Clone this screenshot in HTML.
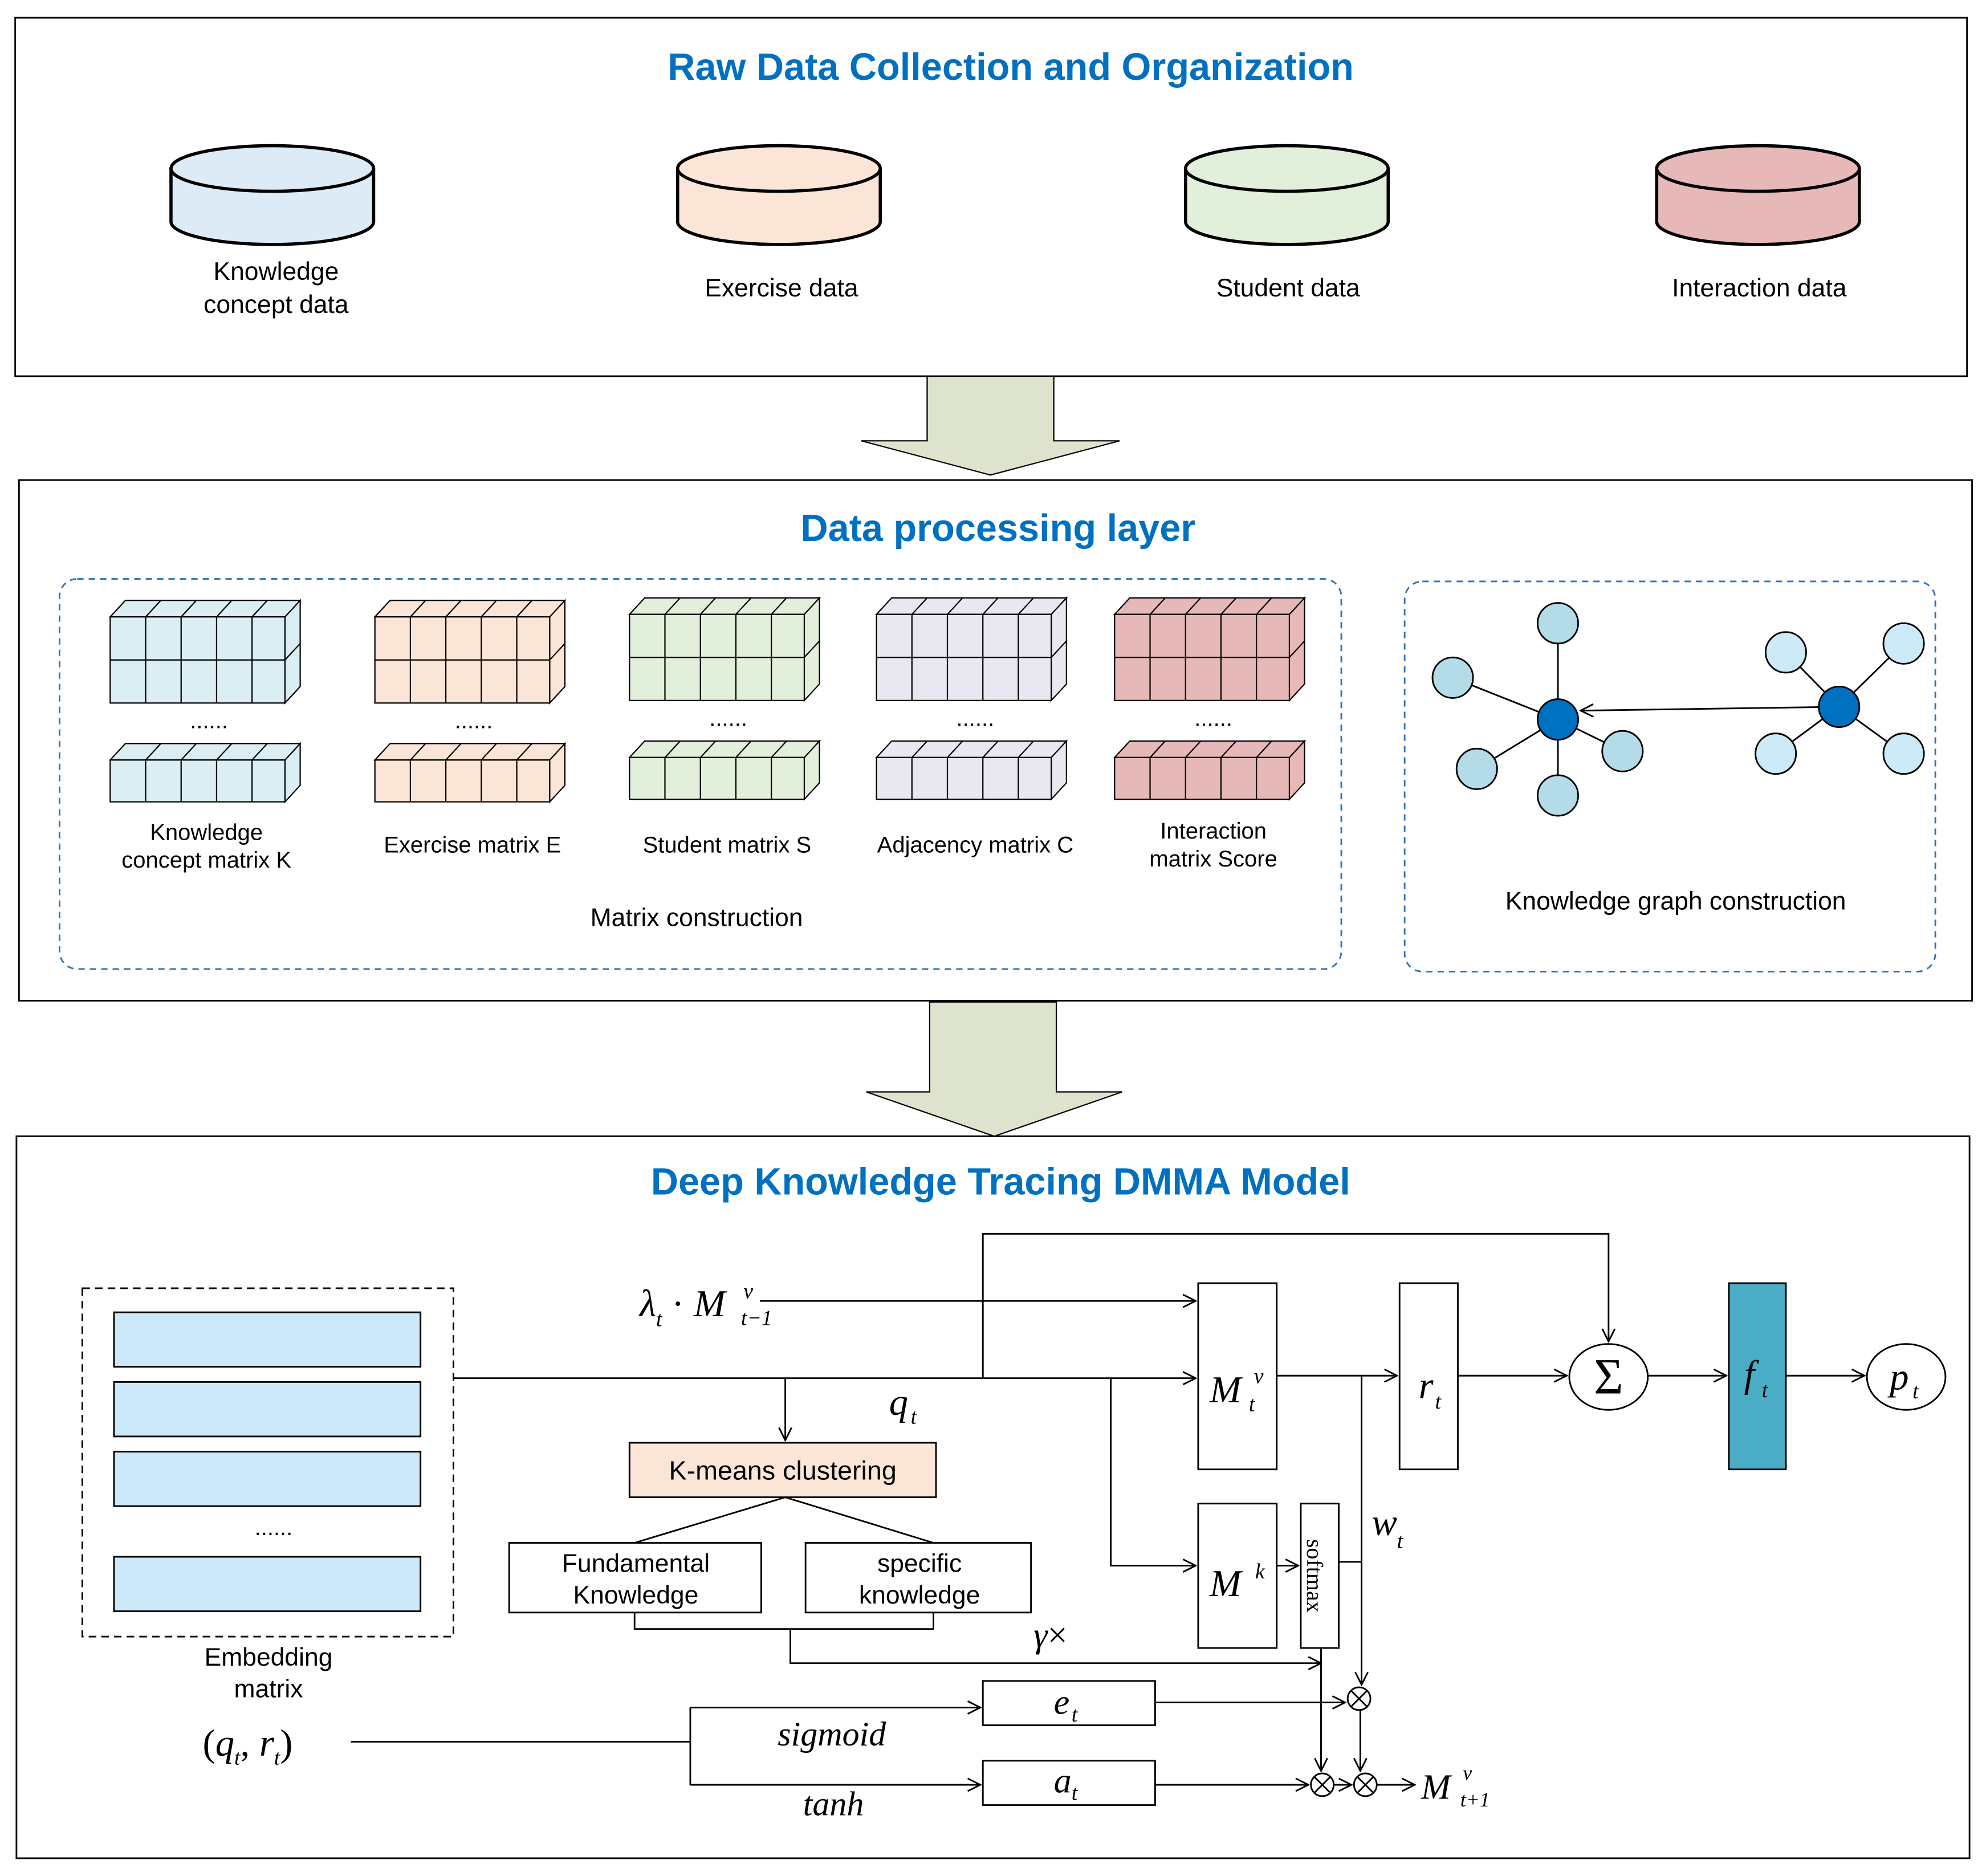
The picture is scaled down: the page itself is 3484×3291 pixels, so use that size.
<!DOCTYPE html>
<html><head><meta charset="utf-8"><style>
html,body{margin:0;padding:0;background:#fff}
svg{display:block}
text{font-family:"Liberation Sans",sans-serif}
.t{font-size:30px;font-weight:bold;fill:#0070C0}
.l{font-size:20px;fill:#000}
.s{font-size:18px;fill:#000}
.m text,text.m{font-family:"Liberation Serif",serif;font-style:italic;fill:#000}
text.sf{font-family:"Liberation Serif",serif}
</style></head><body>
<svg width="3484" height="3291" viewBox="0 0 1568 1481" preserveAspectRatio="none" xmlns="http://www.w3.org/2000/svg">
<defs>
<marker id="a" markerWidth="12" markerHeight="12" refX="11" refY="6" orient="auto" markerUnits="userSpaceOnUse">
<polyline points="1,1 11,6 1,11" fill="none" stroke="#000" stroke-width="1.3"/></marker>
</defs>
<g fill="none" stroke="#000" stroke-width="1.3">
<rect x="12" y="14" width="1541" height="283"/>
<rect x="15" y="379" width="1542" height="411"/>
<rect x="13" y="897" width="1542" height="570"/>
</g>
<text class="t" x="798" y="63" text-anchor="middle">Raw Data Collection and Organization</text>
<text class="t" x="788" y="427" text-anchor="middle">Data processing layer</text>
<text class="t" x="790" y="943" text-anchor="middle">Deep Knowledge Tracing DMMA Model</text>

<g stroke="#000" stroke-width="2.5">
<path d="M135,133 v42 a80,18 0 0 0 160,0 v-42" fill="#DDEBF7"/><ellipse cx="215" cy="133" rx="80" ry="18" fill="#DDEBF7"/>
<path d="M535,133 v42 a80,18 0 0 0 160,0 v-42" fill="#FBE5D6"/><ellipse cx="615" cy="133" rx="80" ry="18" fill="#FBE5D6"/>
<path d="M936,133 v42 a80,18 0 0 0 160,0 v-42" fill="#E2EFDA"/><ellipse cx="1016" cy="133" rx="80" ry="18" fill="#E2EFDA"/>
<path d="M1308,133 v42 a80,18 0 0 0 160,0 v-42" fill="#E6B9B8"/><ellipse cx="1388" cy="133" rx="80" ry="18" fill="#E6B9B8"/>
</g>
<g class="l" text-anchor="middle">
<text x="218" y="221">Knowledge</text><text x="218" y="247">concept data</text>
<text x="617" y="234">Exercise data</text>
<text x="1017" y="234">Student data</text>
<text x="1389" y="234">Interaction data</text>
</g>

<path d="M732,297 h100 v51 h52 l-102,27 l-102,-27 h52 z" fill="#DDE3CC" stroke="#000"/>
<path d="M734,791 h100 v71 h52 l-101,35 l-101,-35 h50 z" fill="#DDE3CC" stroke="#000"/>

<rect x="47" y="457" width="1012" height="308" rx="14" fill="none" stroke="#2E75B6" stroke-dasharray="5,4" stroke-width="1.3"/>
<rect x="1109" y="459" width="419" height="308" rx="14" fill="none" stroke="#2E75B6" stroke-dasharray="5,4" stroke-width="1.3"/>

<g stroke="#000" stroke-width="1">
<g fill="#DAEEF3">
<path d="M87,487 l12,-13 h138 l-12,13z M225,487 l12,-13 v68 l-12,13z"/><rect x="87" y="487" width="138" height="68"/>
<path d="M87,521 h138 M115,487 v68 M143,487 v68 M171,487 v68 M199,487 v68 M115,487 l12,-13 M143,487 l12,-13 M171,487 l12,-13 M199,487 l12,-13 M225,521 l12,-13" fill="none"/>
<path d="M87,600 l12,-13 h138 l-12,13z M225,600 l12,-13 v33 l-12,13z"/><rect x="87" y="600" width="138" height="33"/>
<path d="M115,600 v33 M143,600 v33 M171,600 v33 M199,600 v33 M115,600 l12,-13 M143,600 l12,-13 M171,600 l12,-13 M199,600 l12,-13" fill="none"/>
</g>
<g fill="#FBE5D6" transform="translate(209,0)">
<path d="M87,487 l12,-13 h138 l-12,13z M225,487 l12,-13 v68 l-12,13z"/><rect x="87" y="487" width="138" height="68"/>
<path d="M87,521 h138 M115,487 v68 M143,487 v68 M171,487 v68 M199,487 v68 M115,487 l12,-13 M143,487 l12,-13 M171,487 l12,-13 M199,487 l12,-13 M225,521 l12,-13" fill="none"/>
<path d="M87,600 l12,-13 h138 l-12,13z M225,600 l12,-13 v33 l-12,13z"/><rect x="87" y="600" width="138" height="33"/>
<path d="M115,600 v33 M143,600 v33 M171,600 v33 M199,600 v33 M115,600 l12,-13 M143,600 l12,-13 M171,600 l12,-13 M199,600 l12,-13" fill="none"/>
</g>
<g fill="#E2EFDA" transform="translate(410,-2)">
<path d="M87,487 l12,-13 h138 l-12,13z M225,487 l12,-13 v68 l-12,13z"/><rect x="87" y="487" width="138" height="68"/>
<path d="M87,521 h138 M115,487 v68 M143,487 v68 M171,487 v68 M199,487 v68 M115,487 l12,-13 M143,487 l12,-13 M171,487 l12,-13 M199,487 l12,-13 M225,521 l12,-13" fill="none"/>
<path d="M87,600 l12,-13 h138 l-12,13z M225,600 l12,-13 v33 l-12,13z"/><rect x="87" y="600" width="138" height="33"/>
<path d="M115,600 v33 M143,600 v33 M171,600 v33 M199,600 v33 M115,600 l12,-13 M143,600 l12,-13 M171,600 l12,-13 M199,600 l12,-13" fill="none"/>
</g>
<g fill="#E9E7F0" transform="translate(605,-2)">
<path d="M87,487 l12,-13 h138 l-12,13z M225,487 l12,-13 v68 l-12,13z"/><rect x="87" y="487" width="138" height="68"/>
<path d="M87,521 h138 M115,487 v68 M143,487 v68 M171,487 v68 M199,487 v68 M115,487 l12,-13 M143,487 l12,-13 M171,487 l12,-13 M199,487 l12,-13 M225,521 l12,-13" fill="none"/>
<path d="M87,600 l12,-13 h138 l-12,13z M225,600 l12,-13 v33 l-12,13z"/><rect x="87" y="600" width="138" height="33"/>
<path d="M115,600 v33 M143,600 v33 M171,600 v33 M199,600 v33 M115,600 l12,-13 M143,600 l12,-13 M171,600 l12,-13 M199,600 l12,-13" fill="none"/>
</g>
<g fill="#E6B9B8" transform="translate(793,-2)">
<path d="M87,487 l12,-13 h138 l-12,13z M225,487 l12,-13 v68 l-12,13z"/><rect x="87" y="487" width="138" height="68"/>
<path d="M87,521 h138 M115,487 v68 M143,487 v68 M171,487 v68 M199,487 v68 M115,487 l12,-13 M143,487 l12,-13 M171,487 l12,-13 M199,487 l12,-13 M225,521 l12,-13" fill="none"/>
<path d="M87,600 l12,-13 h138 l-12,13z M225,600 l12,-13 v33 l-12,13z"/><rect x="87" y="600" width="138" height="33"/>
<path d="M115,600 v33 M143,600 v33 M171,600 v33 M199,600 v33 M115,600 l12,-13 M143,600 l12,-13 M171,600 l12,-13 M199,600 l12,-13" fill="none"/>
</g>
</g>
<g class="s" text-anchor="middle">
<text x="165" y="575">......</text><text x="374" y="575">......</text><text x="575" y="573">......</text><text x="770" y="573">......</text><text x="958" y="573">......</text>
<text x="163" y="663">Knowledge</text><text x="163" y="685">concept matrix K</text>
<text x="373" y="673">Exercise matrix E</text>
<text x="574" y="673">Student matrix S</text>
<text x="770" y="673">Adjacency matrix C</text>
<text x="958" y="662">Interaction</text><text x="958" y="684">matrix Score</text>
</g>
<text class="l" x="550" y="731" text-anchor="middle">Matrix construction</text>
<text class="l" x="1323" y="718" text-anchor="middle">Knowledge graph construction</text>

<g stroke="#000" stroke-width="1.3">
<line x1="1230" y1="568" x2="1230" y2="492"/><line x1="1230" y1="568" x2="1147" y2="535"/><line x1="1230" y1="568" x2="1166" y2="607"/><line x1="1230" y1="568" x2="1230" y2="628"/><line x1="1230" y1="568" x2="1281" y2="593"/>
<line x1="1452" y1="558" x2="1410" y2="515"/><line x1="1452" y1="558" x2="1503" y2="508"/><line x1="1452" y1="558" x2="1402" y2="595"/><line x1="1452" y1="558" x2="1503" y2="595"/>
<line x1="1452" y1="558" x2="1248" y2="561" marker-end="url(#a)"/>
<g fill="#B4DCE8"><circle cx="1230" cy="492" r="16"/><circle cx="1147" cy="535" r="16"/><circle cx="1166" cy="607" r="16"/><circle cx="1230" cy="628" r="16"/><circle cx="1281" cy="593" r="16"/></g>
<g fill="#CDEAF8"><circle cx="1410" cy="515" r="16"/><circle cx="1503" cy="508" r="16"/><circle cx="1402" cy="595" r="16"/><circle cx="1503" cy="595" r="16"/></g>
<circle cx="1230" cy="568" r="16" fill="#0070C0"/><circle cx="1452" cy="558" r="16" fill="#0070C0"/>
</g>

<rect x="65" y="1017" width="293" height="275" fill="none" stroke="#000" stroke-dasharray="6,4" stroke-width="1.3"/>
<g fill="#CCE9FA" stroke="#000" stroke-width="1.3">
<rect x="90" y="1036" width="242" height="43"/><rect x="90" y="1091" width="242" height="43"/><rect x="90" y="1146" width="242" height="43"/><rect x="90" y="1229" width="242" height="43"/>
</g>
<text class="s" x="216" y="1212" text-anchor="middle">......</text>
<text class="l" x="212" y="1315" text-anchor="middle">Embedding</text><text class="l" x="212" y="1340" text-anchor="middle">matrix</text>

<g fill="none" stroke="#000" stroke-width="1.3">
<rect x="497" y="1139" width="242" height="43" fill="#FBE5D6"/>
<rect x="402" y="1218" width="199" height="55"/>
<rect x="636" y="1218" width="178" height="55"/>
<rect x="946" y="1013" width="62" height="147"/>
<rect x="946" y="1187" width="62" height="114"/>
<rect x="1027" y="1187" width="30" height="114"/>
<rect x="1105" y="1013" width="46" height="147"/>
<rect x="1365" y="1013" width="45" height="147" fill="#4BACC6"/>
<ellipse cx="1270" cy="1087" rx="31" ry="26"/>
<ellipse cx="1505" cy="1087" rx="31" ry="26"/>
<rect x="776" y="1327" width="136" height="35"/>
<rect x="776" y="1390" width="136" height="35"/>
<circle cx="1073" cy="1341" r="9"/><path d="M1067,1335 l12,12 M1079,1335 l-12,12"/>
<circle cx="1044" cy="1409" r="9"/><path d="M1038,1403 l12,12 M1050,1403 l-12,12"/>
<circle cx="1078" cy="1409" r="9"/><path d="M1072,1403 l12,12 M1084,1403 l-12,12"/>

<polyline points="358,1088 944,1088" marker-end="url(#a)"/>
<polyline points="776,1088 776,974 1270,974 1270,1059" marker-end="url(#a)"/>
<polyline points="600,1027 944,1027" marker-end="url(#a)"/>
<polyline points="620,1088 620,1137" marker-end="url(#a)"/>
<polyline points="877,1088 877,1236 944,1236" marker-end="url(#a)"/>
<polyline points="1008,1236 1025,1236" marker-end="url(#a)"/>
<polyline points="1008,1086 1103,1086" marker-end="url(#a)"/>
<polyline points="1151,1086 1237,1086" marker-end="url(#a)"/>
<polyline points="1301,1086 1363,1086" marker-end="url(#a)"/>
<polyline points="1410,1086 1472,1086" marker-end="url(#a)"/>
<polyline points="1075,1086 1075,1330" marker-end="url(#a)"/>
<polyline points="1057,1233 1075,1233"/>
<path d="M620,1182 L501,1218 M620,1182 L737,1218"/>
<polyline points="501,1273 501,1286 737,1286 737,1273"/>
<polyline points="624,1286 624,1313 1043,1313" marker-end="url(#a)"/>
<polyline points="1043,1301 1043,1398" marker-end="url(#a)"/>
<polyline points="1074,1350 1074,1398" marker-end="url(#a)"/>
<polyline points="912,1344 1062,1344" marker-end="url(#a)"/>
<polyline points="912,1409 1033,1409" marker-end="url(#a)"/>
<polyline points="1053,1409 1067,1409" marker-end="url(#a)"/>
<polyline points="1087,1409 1117,1409" marker-end="url(#a)"/>
<polyline points="277,1375 545,1375"/>
<polyline points="545,1348 545,1409"/>
<polyline points="545,1348 774,1348" marker-end="url(#a)"/>
<polyline points="545,1409 774,1409" marker-end="url(#a)"/>
</g>
<g class="l" text-anchor="middle" font-size="21">
<text x="618" y="1168" font-size="21">K-means clustering</text>
<text x="502" y="1241">Fundamental</text><text x="502" y="1266">Knowledge</text>
<text x="726" y="1241">specific</text><text x="726" y="1266">knowledge</text>
</g>
<text class="sf" x="1036" y="1244" font-size="18" transform="rotate(90 1036 1244)" text-anchor="middle" dominant-baseline="middle">softmax</text>
<g class="m">
<text x="505" y="1039" font-size="30">λ<tspan font-size="17" dy="8">t</tspan><tspan dy="-8" font-style="normal"> · </tspan>M</text>
<text x="587" y="1025" font-size="17">v</text><text x="585" y="1046" font-size="17">t−1</text>
<text x="702" y="1117" font-size="30">q</text><text x="719" y="1124" font-size="17">t</text>
<text x="955" y="1107" font-size="30">M</text><text x="990" y="1092" font-size="17">v</text><text x="986" y="1114" font-size="17">t</text>
<text x="955" y="1260" font-size="30">M</text><text x="991" y="1246" font-size="17">k</text>
<text x="1120" y="1104" font-size="30">r</text><text x="1133" y="1112" font-size="17">t</text>
<text x="1377" y="1095" font-size="30">f</text><text x="1391" y="1103" font-size="17">t</text>
<text x="1492" y="1097" font-size="30">p</text><text x="1510" y="1104" font-size="17">t</text>
<text x="1083" y="1212" font-size="30">w</text><text x="1103" y="1222" font-size="17">t</text>
<text x="816" y="1300" font-size="28">γ<tspan font-style="normal">×</tspan></text>
<text x="832" y="1353" font-size="28">e</text><text x="846" y="1359" font-size="17">t</text>
<text x="832" y="1415" font-size="28">a</text><text x="846" y="1421" font-size="17">t</text>
<text x="614" y="1378" font-size="27">sigmoid</text>
<text x="634" y="1433" font-size="27">tanh</text>
<text x="160" y="1386" font-size="30"><tspan font-style="normal">(</tspan>q<tspan font-size="17" dy="7">t</tspan><tspan dy="-7" font-style="normal">, </tspan>r<tspan font-size="17" dy="7">t</tspan><tspan dy="-7" font-style="normal">)</tspan></text>
<text x="1122" y="1420" font-size="28">M</text><text x="1155" y="1405" font-size="16">v</text><text x="1153" y="1426" font-size="16">t+1</text>
</g>
<text class="sf" x="1270" y="1100" font-size="40" text-anchor="middle">Σ</text>
</svg>
</body></html>
